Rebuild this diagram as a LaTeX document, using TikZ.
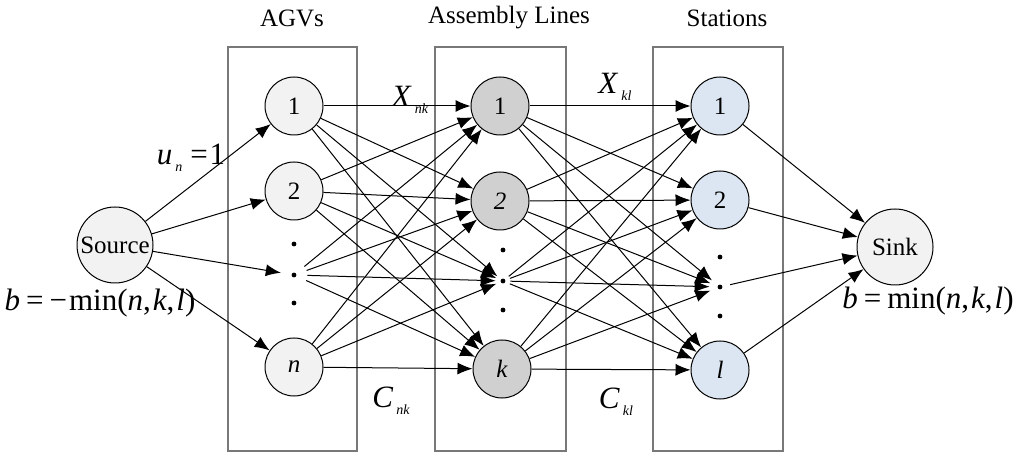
\documentclass[tikz,border=0pt]{standalone}
\usepackage{fontspec}
\setmainfont{LiberationSerif}[Extension=.ttf,UprightFont=*-Regular,ItalicFont=*-Italic,BoldFont=*-Bold,BoldItalicFont=*-BoldItalic]
\usetikzlibrary{arrows.meta,positioning}
\definecolor{agvfill}{RGB}{242,242,242}
\definecolor{asmfill}{RGB}{208,208,208}
\definecolor{stafill}{RGB}{220,230,242}
\definecolor{boxgray}{RGB}{120,120,120}
\newcommand{\varsub}[2]{\textit{#1}\kern1.5pt\raisebox{-3.5pt}{\fontsize{7}{8}\selectfont\itshape #2}}

\begin{document}
\begin{tikzpicture}[x=0.5pt,y=-0.5pt,>={Latex[length=7.5pt,width=6pt]},
    font=\fontsize{12.5}{14}\selectfont,
    vert/.style={circle,draw,line width=0.5pt,minimum size=29pt,inner sep=0pt},
    endvert/.style={circle,draw,line width=0.5pt,minimum size=38pt,inner sep=0pt,fill=agvfill},
    gap/.style={circle,minimum size=#1,inner sep=0pt},
    dot/.style={circle,fill=black,minimum size=2.4pt,inner sep=0pt},
    column/.style={draw=boxgray,line width=0.6pt},
    flow/.style={font=\fontsize{15.5}{17}\selectfont,inner sep=0pt},
    edge/.style={->,line width=0.5pt}]
      \useasboundingbox (0,0) rectangle (1015,453);
      % columns
      \draw[column] (228,47) rectangle (357,451);
      \draw[column] (435,47) rectangle (566,451);
      \draw[column] (653,47) rectangle (783,451);
      \node at (292,18) (agvt) {AGVs};
      \node at (509,18) (asmt) {Assembly Lines};
      \node at (727,18) (stat) {Stations};
      % source and sink
      \node[endvert] at (115,245) (src) {Source};
      \node[endvert] at (895,247) (snk) {Sink};
      \node[flow] at (100,303) (srcb) {\textit{b}\kern3pt=\kern3pt−\kern1pt min(\textit{n},\kern1pt\textit{k},\kern1pt\textit{l})};
      \node[flow] at (928,301) (snkb) {\textit{b}\kern3pt=\kern3pt min(\textit{n},\kern1pt\textit{k},\kern1pt\textit{l})};
      % AGVs
      \node[vert,fill=agvfill] at (294,106) (agv1) {1};
      \node[vert,fill=agvfill] at (294,191) (agv2) {2};
      \node[vert,fill=agvfill] at (294,367) (agvn) {\textit{n}};
      \node[gap=13pt] at (294,275) (agvm) {};
      \node[dot] at (294,244) (agvd1) {};
      \node[dot] at (agvm) (agvd2) {};
      \node[dot] at (294,303) (agvd3) {};
      % assembly lines
      \node[vert,fill=asmfill] at (500,106) (asm1) {1};
      \node[vert,fill=asmfill] at (500,201) (asm2) {\textit{2}};
      \node[vert,fill=asmfill] at (502,369) (asmk) {\textit{k}};
      \node[gap=7pt] at (503,281) (asmm) {};
      \node[dot] at (503,250) (asmd1) {};
      \node[dot] at (asmm) (asmd2) {};
      \node[dot] at (503,310) (asmd3) {};
      % stations
      \node[vert,fill=stafill] at (720,106) (sta1) {1};
      \node[vert,fill=stafill] at (720,200) (sta2) {2};
      \node[vert,fill=stafill] at (720,370) (stal) {\textit{l}};
      \node[gap=10pt] at (720,287) (stam) {};
      \node[dot] at (720,257) (stad1) {};
      \node[dot] at (stam) (stad2) {};
      \node[dot] at (720,316) (stad3) {};
      % flow labels
      \node[flow] at (191,158) (un) {\varsub{u}{n}\kern4pt=\kern1pt1};
      \node[flow] at (410,100) (xnk) {\varsub{X}{nk}};
      \node[flow] at (391,401) (cnk) {\varsub{C}{nk}};
      \node[flow] at (615,87) (xkl) {\varsub{X}{kl}};
      \node[flow] at (616,402) (ckl) {\varsub{C}{kl}};
      % arcs
      \foreach \a in {agv1,agv2,agvm,agvn}
        \draw[edge] (src) -- (\a);
      \foreach \a in {agv1,agv2,agvm,agvn}
        \foreach \b in {asm1,asm2,asmm,asmk}
          \draw[edge] (\a) -- (\b);
      \foreach \a in {asm1,asm2,asmm,asmk}
        \foreach \b in {sta1,sta2,stam,stal}
          \draw[edge] (\a) -- (\b);
      \foreach \a in {sta1,sta2,stam,stal}
        \draw[edge] (\a) -- (snk);
\end{tikzpicture}
\end{document}
